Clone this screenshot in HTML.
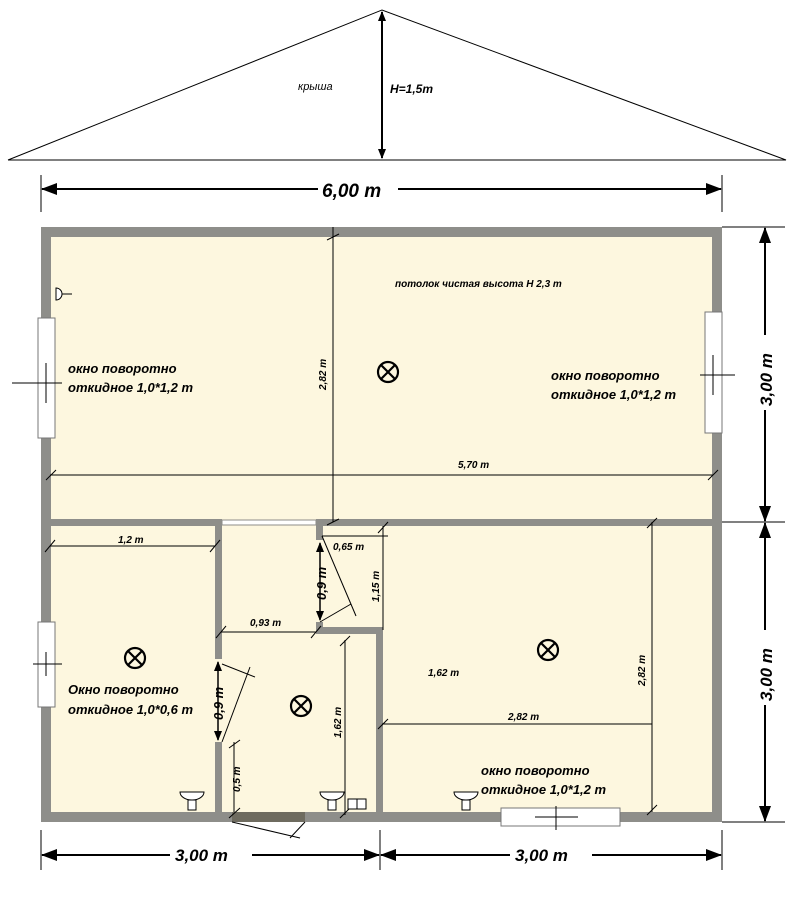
<!DOCTYPE html>
<html><head><meta charset="utf-8"><style>body{margin:0;background:#fff}svg{display:block}
text{font-family:"Liberation Sans",sans-serif;font-style:italic;fill:#000}</style></head><body>
<svg width="794" height="910" viewBox="0 0 794 910" xmlns="http://www.w3.org/2000/svg">
<defs><marker id="a" markerWidth="10" markerHeight="10" refX="9" refY="5" orient="auto-start-reverse" markerUnits="userSpaceOnUse"><path d="M0,1 L10,5 L0,9z" fill="#000"/></marker>
<marker id="b" markerWidth="16" markerHeight="12" refX="15" refY="6" orient="auto-start-reverse" markerUnits="userSpaceOnUse"><path d="M0,0 L16,6 L0,12z" fill="#000"/></marker></defs>
<!-- roof -->
<polyline points="8,160 382,10 786,160 8,160" fill="none" stroke="#000" stroke-width="1"/>
<line x1="382" y1="12" x2="382" y2="158" stroke="#000" stroke-width="2" marker-start="url(#a)" marker-end="url(#a)"/>
<text x="298" y="90" font-size="11">крыша</text>
<text x="390" y="93" font-size="12" font-weight="bold">H=1,5m</text>
<!-- top dim -->
<line x1="41" y1="175" x2="41" y2="212" stroke="#000"/><line x1="722" y1="175" x2="722" y2="212" stroke="#000"/>
<line x1="42" y1="189" x2="318" y2="189" stroke="#000" stroke-width="2" marker-start="url(#b)"/>
<line x1="398" y1="189" x2="721" y2="189" stroke="#000" stroke-width="2" marker-end="url(#b)"/>
<text x="322" y="197" font-size="19" font-weight="bold">6,00 m</text>
<!-- floor -->
<rect x="41" y="227" width="681" height="595" fill="#fdf7df"/>
<g fill="#8e8e8a">
<rect x="41" y="227" width="681" height="10"/><rect x="41" y="812" width="681" height="10"/>
<rect x="41" y="227" width="10" height="595"/><rect x="712" y="227" width="10" height="595"/>
<rect x="41" y="519" width="181" height="7"/><rect x="316" y="519" width="406" height="7"/>
<rect x="215" y="519" width="7" height="140"/><rect x="215" y="742" width="7" height="80"/>
<rect x="316" y="519" width="7" height="21"/><rect x="316" y="622" width="7" height="12"/>
<rect x="316" y="627" width="67" height="7"/><rect x="376" y="627" width="7" height="195"/>
</g>
<rect x="222" y="520" width="94" height="5" fill="#fff" stroke="#8e8e8a" stroke-width="1"/>
<rect x="232" y="812" width="73" height="10" fill="#6e6b5f"/>
<line x1="232" y1="822" x2="300" y2="838" stroke="#000"/><line x1="290" y1="838" x2="305" y2="822" stroke="#000"/>
<!-- windows -->
<g fill="#fff" stroke="#777">
<rect x="38" y="318" width="17" height="120"/><rect x="705" y="312" width="17" height="121"/>
<rect x="38" y="622" width="17" height="85"/><rect x="501" y="808" width="119" height="18"/></g>
<g stroke="#000">
<line x1="12" y1="383" x2="62" y2="383"/><line x1="46" y1="363" x2="46" y2="403"/>
<line x1="700" y1="375" x2="735" y2="375"/><line x1="713" y1="355" x2="713" y2="395"/>
<line x1="33" y1="664" x2="62" y2="664"/><line x1="46" y1="652" x2="46" y2="676"/>
<line x1="535" y1="817" x2="578" y2="817"/><line x1="556" y1="806" x2="556" y2="830"/></g>
<!-- dims interior -->
<g stroke="#000" stroke-width="1" fill="none">
<line x1="333" y1="227" x2="333" y2="522"/><line x1="327" y1="240" x2="339" y2="234"/><line x1="327" y1="525" x2="339" y2="519"/>
<line x1="50" y1="475" x2="713" y2="475"/><line x1="46" y1="480" x2="56" y2="470"/><line x1="708" y1="480" x2="718" y2="470"/>
<line x1="50" y1="546" x2="215" y2="546"/><line x1="45" y1="552" x2="55" y2="540"/><line x1="210" y1="552" x2="220" y2="540"/>
<line x1="221" y1="632" x2="316" y2="632"/><line x1="216" y1="638" x2="226" y2="626"/><line x1="311" y1="638" x2="321" y2="626"/>
<line x1="322" y1="536" x2="388" y2="536"/><line x1="383" y1="526" x2="383" y2="630"/><line x1="378" y1="533" x2="388" y2="522"/>
<line x1="322" y1="536" x2="356" y2="616"/><line x1="320" y1="622" x2="351" y2="604"/>
<line x1="345" y1="640" x2="345" y2="815"/><line x1="340" y1="646" x2="350" y2="636"/><line x1="340" y1="818" x2="350" y2="808"/>
<line x1="234" y1="742" x2="234" y2="812"/><line x1="229" y1="748" x2="240" y2="740"/><line x1="229" y1="818" x2="240" y2="808"/>
<line x1="652" y1="522" x2="652" y2="812"/><line x1="647" y1="528" x2="657" y2="518"/><line x1="647" y1="815" x2="657" y2="805"/>
<line x1="382" y1="724" x2="652" y2="724"/><line x1="378" y1="729" x2="388" y2="719"/>
<line x1="222" y1="664" x2="255" y2="677"/><line x1="250" y1="667" x2="222" y2="742"/>
</g>
<line x1="320" y1="543" x2="320" y2="620" stroke="#000" stroke-width="1.5" marker-start="url(#a)" marker-end="url(#a)"/>
<line x1="218" y1="662" x2="218" y2="740" stroke="#000" stroke-width="1.5" marker-start="url(#a)" marker-end="url(#a)"/>
<g font-size="10" font-weight="bold">
<text x="395" y="287">потолок чистая высота Н 2,3 m</text>
<text x="458" y="468">5,70 m</text>
<text x="118" y="543">1,2 m</text>
<text x="250" y="626">0,93 m</text>
<text x="333" y="550">0,65 m</text>
<text x="428" y="676">1,62 m</text>
<text x="508" y="720">2,82 m</text>
<text transform="translate(326,390) rotate(-90)">2,82 m</text>
<text transform="translate(379,602) rotate(-90)">1,15 m</text>
<text transform="translate(341,738) rotate(-90)">1,62 m</text>
<text transform="translate(240,792) rotate(-90)">0,5 m</text>
<text transform="translate(645,686) rotate(-90)">2,82 m</text>
</g>
<g font-size="13" font-weight="bold">
<text transform="translate(326,600) rotate(-90)">0,9 m</text>
<text transform="translate(223,720) rotate(-90)">0,9 m</text>
<text x="68" y="373">окно поворотно</text><text x="68" y="392">откидное 1,0*1,2 m</text>
<text x="551" y="380">окно поворотно</text><text x="551" y="399">откидное 1,0*1,2 m</text>
<text x="68" y="694">Окно поворотно</text><text x="68" y="714">откидное 1,0*0,6 m</text>
<text x="481" y="775">окно поворотно</text><text x="481" y="794">откидное 1,0*1,2 m</text>
</g>
<!-- lamps -->
<g stroke="#000" stroke-width="2.2" fill="none">
<g transform="translate(388,372)"><circle r="10"/><path d="M-7,-7L7,7M-7,7L7,-7"/></g>
<g transform="translate(548,650)"><circle r="10"/><path d="M-7,-7L7,7M-7,7L7,-7"/></g>
<g transform="translate(135,658)"><circle r="10"/><path d="M-7,-7L7,7M-7,7L7,-7"/></g>
<g transform="translate(301,706)"><circle r="10"/><path d="M-7,-7L7,7M-7,7L7,-7"/></g>
</g>
<!-- sinks -->
<g stroke="#000" fill="#fff" stroke-width="1">
<path d="M180,792 h24 a12,8 0 0 1 -24,0z"/><rect x="188" y="800" width="8" height="10"/>
<path d="M320,792 h24 a12,8 0 0 1 -24,0z"/><rect x="328" y="800" width="8" height="10"/>
<path d="M454,792 h24 a12,8 0 0 1 -24,0z"/><rect x="462" y="800" width="8" height="10"/>
<rect x="348" y="799" width="9" height="10"/><rect x="357" y="799" width="9" height="10"/>
<path d="M56,288 a6,6 0 0 1 0,12z" /><line x1="62" y1="294" x2="72" y2="294"/>
</g>
<!-- right dims -->
<g stroke="#000">
<line x1="722" y1="227" x2="785" y2="227"/><line x1="722" y1="522" x2="785" y2="522"/><line x1="722" y1="822" x2="785" y2="822"/>
<line x1="41" y1="830" x2="41" y2="870"/><line x1="380" y1="830" x2="380" y2="870"/><line x1="722" y1="830" x2="722" y2="870"/></g>
<g stroke="#000" stroke-width="2">
<line x1="765" y1="228" x2="765" y2="335" marker-start="url(#b)"/><line x1="765" y1="410" x2="765" y2="521" marker-end="url(#b)"/>
<line x1="765" y1="523" x2="765" y2="630" marker-start="url(#b)"/><line x1="765" y1="705" x2="765" y2="821" marker-end="url(#b)"/>
<line x1="42" y1="855" x2="170" y2="855" marker-start="url(#b)"/><line x1="252" y1="855" x2="379" y2="855" marker-end="url(#b)"/>
<line x1="381" y1="855" x2="510" y2="855" marker-start="url(#b)"/><line x1="592" y1="855" x2="721" y2="855" marker-end="url(#b)"/>
</g>
<g font-size="17" font-weight="bold">
<text transform="translate(772,406) rotate(-90)">3,00 m</text>
<text transform="translate(772,701) rotate(-90)">3,00 m</text>
<text x="175" y="861">3,00 m</text><text x="515" y="861">3,00 m</text>
</g>
</svg></body></html>
